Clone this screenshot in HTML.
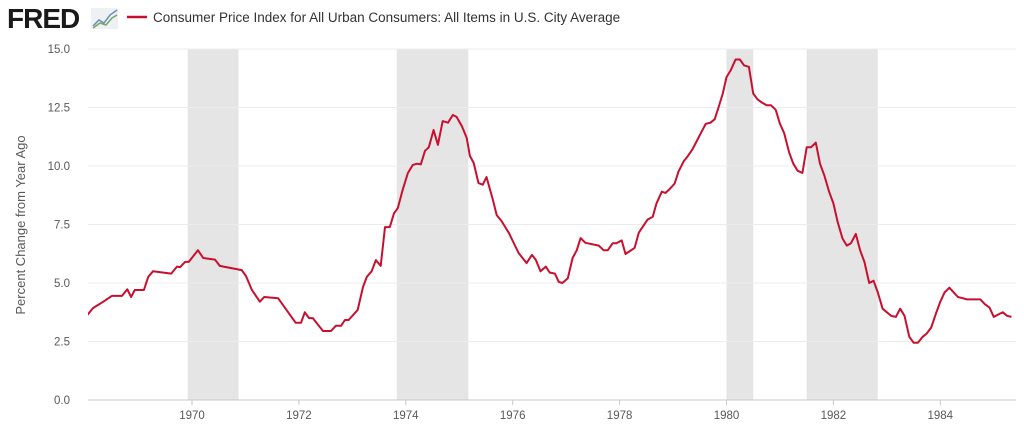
<!DOCTYPE html>
<html><head><meta charset="utf-8">
<style>
body{margin:0;background:#fff;width:1024px;height:434px;overflow:hidden;font-family:"Liberation Sans",sans-serif;}
svg text{font-family:"Liberation Sans",sans-serif;}
</style></head>
<body>
<svg id="chart" width="1024" height="434" xmlns="http://www.w3.org/2000/svg">
  <g>
    <text x="7" y="28" font-size="28" font-weight="bold" fill="#1a1a1a" letter-spacing="-1">FRED</text>
    <rect x="91" y="8" width="27" height="21" fill="#eef1f4"/>
    <polyline points="93,26 99,20 104,23 110,15 117,10" fill="none" stroke="#6b8fb3" stroke-width="1.5"/>
    <polyline points="93,28 100,23 106,25 112,18 117,15" fill="none" stroke="#7aa36b" stroke-width="1.5"/>
  </g>
  <g>
    <line x1="127" y1="17" x2="147" y2="17" stroke="#c8102e" stroke-width="2.5"/>
    <text x="153" y="22" font-size="13.5" fill="#333">Consumer Price Index for All Urban Consumers: All Items in U.S. City Average</text>
  </g>
  <text transform="translate(25,225) rotate(-90)" text-anchor="middle" font-size="13" fill="#595959">Percent Change from Year Ago</text>
  <g id="recessions"></g>
  <g id="grid"></g>
  <g id="xticks"></g>
  <g id="series"></g>
</svg>
<script>
const yTicks=[0,2.5,5,7.5,10,12.5,15];
const yTickLabels=["0.0","2.5","5.0","7.5","10.0","12.5","15.0"];
const xTicks=[1970,1972,1974,1976,1978,1980,1982,1984];
const recStart=[1969.92,1973.83,1980.0,1981.5];
const recEnd=[1970.87,1975.17,1980.5,1982.83];
const dates=[1968.04,1968.15,1968.34,1968.50,1968.69,1968.79,1968.86,1968.93,1969.10,1969.18,1969.27,1969.61,1969.72,1969.78,1969.87,1969.94,1970.11,1970.21,1970.43,1970.52,1970.93,1971.01,1971.12,1971.27,1971.35,1971.61,1971.94,1972.04,1972.11,1972.19,1972.26,1972.45,1972.60,1972.69,1972.79,1972.86,1972.93,1973.10,1973.20,1973.27,1973.36,1973.44,1973.53,1973.61,1973.70,1973.78,1973.85,1973.94,1974.04,1974.13,1974.21,1974.28,1974.36,1974.43,1974.52,1974.60,1974.69,1974.79,1974.88,1974.95,1975.05,1975.14,1975.20,1975.27,1975.36,1975.44,1975.51,1975.63,1975.70,1975.79,1975.93,1976.11,1976.26,1976.36,1976.43,1976.52,1976.62,1976.69,1976.79,1976.86,1976.93,1977.03,1977.12,1977.20,1977.27,1977.36,1977.61,1977.70,1977.78,1977.87,1977.94,1978.04,1978.11,1978.28,1978.36,1978.52,1978.62,1978.69,1978.79,1978.86,1978.93,1979.03,1979.10,1979.20,1979.27,1979.36,1979.44,1979.53,1979.61,1979.70,1979.78,1979.85,1979.93,
1980.00,1980.08,1980.17,1980.25,1980.33,1980.42,1980.50,1980.58,1980.67,1980.75,1980.83,1980.92,
1981.00,1981.08,1981.17,1981.25,1981.33,1981.42,1981.50,1981.58,1981.67,1981.75,1981.83,1981.92,
1982.00,1982.08,1982.17,1982.25,1982.33,1982.42,1982.50,1982.58,1982.67,1982.75,1982.83,1982.92,
1983.00,1983.08,1983.17,1983.25,1983.33,1983.42,1983.50,1983.58,1983.67,1983.75,1983.83,1983.92,
1984.00,1984.08,1984.17,1984.25,1984.33,1984.42,1984.50,1984.58,1984.67,1984.75,1984.83,1984.92,
1985.00,1985.08,1985.17,1985.25,1985.33];
const values=[3.63,3.93,4.2,4.45,4.45,4.73,4.4,4.7,4.7,5.26,5.5,5.4,5.7,5.68,5.9,5.9,6.4,6.07,6.0,5.73,5.55,5.3,4.7,4.2,4.4,4.35,3.3,3.3,3.75,3.5,3.5,2.95,2.95,3.17,3.17,3.42,3.42,3.85,4.83,5.26,5.5,5.98,5.73,7.39,7.39,7.98,8.2,8.97,9.7,10.04,10.1,10.07,10.65,10.8,11.54,10.9,11.92,11.85,12.18,12.1,11.7,11.2,10.43,10.13,9.27,9.2,9.53,8.55,7.9,7.65,7.13,6.28,5.85,6.2,6.0,5.5,5.7,5.45,5.4,5.05,5.0,5.2,6.07,6.4,6.92,6.72,6.6,6.4,6.4,6.7,6.7,6.82,6.24,6.5,7.15,7.7,7.83,8.4,8.9,8.85,9.0,9.25,9.75,10.2,10.4,10.7,11.05,11.45,11.8,11.85,12.0,12.5,13.1,
13.8,14.1,14.55,14.55,14.3,14.24,13.1,12.85,12.7,12.6,12.6,12.4,
11.8,11.4,10.6,10.1,9.8,9.7,10.8,10.8,11.0,10.1,9.6,8.9,
8.4,7.6,6.9,6.6,6.7,7.1,6.4,5.9,5.0,5.1,4.6,3.9,
3.75,3.6,3.55,3.9,3.6,2.7,2.45,2.45,2.7,2.85,3.1,3.7,
4.2,4.6,4.8,4.6,4.4,4.35,4.3,4.3,4.3,4.3,4.1,3.95,
3.55,3.65,3.75,3.6,3.55];

const NS='http://www.w3.org/2000/svg';
const L=88,R=1016,T=49,B=400;
const xScale=t=>192+(t-1970)*53.45;
const yScale=v=>B-(v/15)*(B-T);
function mk(tag,attrs,parent){const e=document.createElementNS(NS,tag);for(const k in attrs)e.setAttribute(k,attrs[k]);parent.appendChild(e);return e;}
const gR=document.getElementById('recessions');
for(let i=0;i<recStart.length;i++){
  const x1=Math.max(L,xScale(recStart[i])),x2=xScale(recEnd[i]);
  const r=mk('rect',{x:x1,y:T,width:x2-x1,height:B-T,fill:'#e5e5e5'},gR);
  
  
}
const gG=document.getElementById('grid');
yTicks.forEach((v,i)=>{
  const y=yScale(v);
  const ln=mk('line',{x1:L,x2:R,y1:y,y2:y,stroke:i===0?'#c8c8c8':'#ececec','stroke-width':1},gG);
  
  
  const tx=mk('text',{x:70,y:y+4,'text-anchor':'end','font-size':11.5,fill:'#595959'},gG);
  tx.textContent=yTickLabels[i];
  
  
});
const gX=document.getElementById('xticks');
xTicks.forEach(t=>{
  const x=xScale(t);
  const tk=mk('line',{x1:x,x2:x,y1:B,y2:B+5,stroke:'#c8c8c8'},gX);
  
  
  const tx=mk('text',{x:x,y:B+19,'text-anchor':'middle','font-size':11.5,fill:'#595959'},gX);
  tx.textContent=String(t);
  
  
});
const gS=document.getElementById('series');
mk('clipPath',{id:'clip'},gS).appendChild(document.createElementNS(NS,'rect'));
const cr=gS.querySelector('clipPath rect');cr.setAttribute('x',L);cr.setAttribute('y',0);cr.setAttribute('width',R-L);cr.setAttribute('height',434);
const pts=dates.map((t,i)=>xScale(t).toFixed(1)+','+yScale(values[i]).toFixed(1)).join(' ');
const pl=mk('polyline',{points:pts,fill:'none',stroke:'#c8102e','stroke-width':2,'stroke-linejoin':'round','clip-path':'url(#clip)'},gS);


</script>
</body></html>
